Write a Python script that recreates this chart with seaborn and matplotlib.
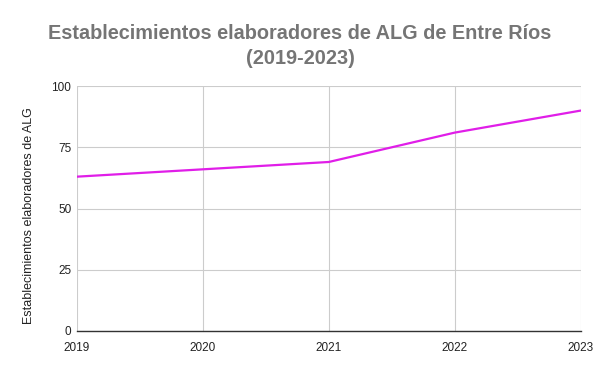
import matplotlib
matplotlib.use('Agg')
import matplotlib.pyplot as plt
import seaborn as sns
import pandas as pd

years = [2019, 2020, 2021, 2022, 2023]
establecimientos = [63, 66, 69, 81, 90]
yticks = [0, 25, 50, 75, 100]

df = pd.DataFrame({'anio': years, 'valor': establecimientos})

sns.set_style('white')
plt.rcParams['font.family'] = ['Liberation Sans', 'DejaVu Sans']

fig = plt.figure(figsize=(6, 3.71), dpi=100)
ax = fig.add_axes([0.128, 0.108, 0.84, 0.66])

sns.lineplot(data=df, x='anio', y='valor', color='#e01ee8', linewidth=1.6, ax=ax)

ax.set_xlim(2019, 2023)
ax.set_ylim(0, 100)
ax.set_xticks(years)
ax.set_yticks(yticks)
ax.grid(True, color='#cccccc', linewidth=0.8)
ax.set_axisbelow(True)
for s in ['top', 'right', 'left']:
    ax.spines[s].set_visible(False)
ax.spines['bottom'].set_color('#333333')
ax.spines['bottom'].set_linewidth(1)
ax.tick_params(axis='both', length=0, labelsize=8.5, colors='#222222')
ax.tick_params(axis='x', pad=8)
ax.tick_params(axis='y', pad=4)
ax.set_xlabel('')
ax.set_ylabel('Establecimientos elaboradores de ALG', fontsize=9, color='#222222')
ax.yaxis.set_label_coords(-0.082, 0.47)

fig.suptitle('Establecimientos elaboradores de ALG de Entre Ríos\n(2019-2023)',
             fontsize=14.3, fontweight='bold', color='#757575', y=0.935, linespacing=1.4)

fig.savefig('out.png', dpi=100, facecolor='white')
